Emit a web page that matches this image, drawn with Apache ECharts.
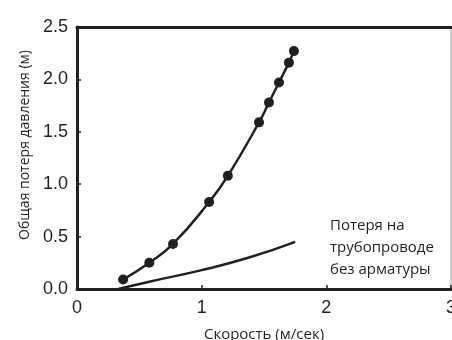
<!DOCTYPE html>
<html>
<head>
<meta charset="utf-8">
<script src="https://cdn.jsdelivr.net/npm/echarts@6/dist/echarts.min.js"></script>
<style>
  html, body { margin: 0; padding: 0; background: #fff; }
  #main { width: 452px; height: 340px; }
</style>
</head>
<body>
<div id="main"></div>
<script>
// measured points (speed m/s, total pressure loss m)
var speedMeasured = [0.37, 0.58, 0.77, 1.06, 1.21, 1.46, 1.54, 1.62, 1.70, 1.74];
var lossMeasured = [0.09, 0.25, 0.43, 0.83, 1.08, 1.59, 1.78, 1.97, 2.16, 2.27];

// pipe loss without fittings
var speedPipe = [0.33, 0.58, 1.0, 1.38, 1.75];
var lossPipe = [0.0, 0.07, 0.18, 0.30, 0.45];

var xTicks = [0, 1, 2, 3];
var yTicks = [0, 0.5, 1.0, 1.5, 2.0, 2.5];

var ink = '#231f20';

function pairs(xs, ys) {
    return xs.map(function (x, i) { return [x, ys[i]]; });
}

var myChart = echarts.init(document.getElementById('main'));
myChart.setOption({
    animation: false,
    grid: {
        left: 77,
        right: 1,
        top: 27,
        bottom: 51,
        outerBoundsMode: 'none',
        containLabel: false,
        show: true,
        borderColor: '#9a9a9a',
        borderWidth: 1
    },
    xAxis: [{
        type: 'value',
        min: xTicks[0],
        max: xTicks[xTicks.length - 1],
        interval: 1,
        name: 'Скорость (м/сек)',
        nameLocation: 'middle',
        nameGap: 38,
        nameTextStyle: {
            color: ink,
            fontSize: 15,
            fontFamily: 'Open Sans'
        },
        axisLine: { lineStyle: { color: ink, width: 3 } },
        axisTick: { inside: true, length: 4, lineStyle: { color: ink, width: 1.5 } },
        splitLine: { show: false },
        axisLabel: {
            color: ink,
            fontSize: 18,
            fontFamily: 'Liberation Sans',
            margin: 10,
            formatter: function (v) { return String(v); }
        }
    }, {
        type: 'value',
        position: 'top',
        min: xTicks[0],
        max: xTicks[xTicks.length - 1],
        axisLine: { lineStyle: { color: ink, width: 3 } },
        axisTick: { show: false },
        axisLabel: { show: false },
        splitLine: { show: false }
    }],
    yAxis: {
        type: 'value',
        min: yTicks[0],
        max: yTicks[yTicks.length - 1],
        interval: 0.5,
        name: 'Общая потеря давления (м)',
        nameLocation: 'middle',
        nameGap: 44,
        nameTextStyle: {
            color: ink,
            fontSize: 14,
            fontFamily: 'Open Sans',
            padding: [0, 0, 0, 26]
        },
        axisLine: { show: true, lineStyle: { color: ink, width: 3 } },
        axisTick: { show: true, inside: true, length: 4, lineStyle: { color: ink, width: 1.5 } },
        splitLine: { show: false },
        axisLabel: {
            color: ink,
            fontSize: 18,
            fontFamily: 'Liberation Sans',
            margin: 9,
            formatter: function (v) { return v.toFixed(1); }
        }
    },
    graphic: [{
        type: 'text',
        left: 330,
        top: 215,
        style: {
            text: 'Потеря на\nтрубопроводе\nбез арматуры',
            fill: ink,
            font: '15px "Open Sans"',
            lineHeight: 22
        }
    }],
    series: [{
        name: 'measured',
        type: 'line',
        smooth: true,
        symbol: 'circle',
        symbolSize: 10,
        itemStyle: { color: ink },
        lineStyle: { color: ink, width: 2.5 },
        data: pairs(speedMeasured, lossMeasured)
    }, {
        name: 'pipe',
        type: 'line',
        smooth: true,
        showSymbol: false,
        lineStyle: { color: ink, width: 2.5 },
        data: pairs(speedPipe, lossPipe)
    }]
});
</script>
</body>
</html>
